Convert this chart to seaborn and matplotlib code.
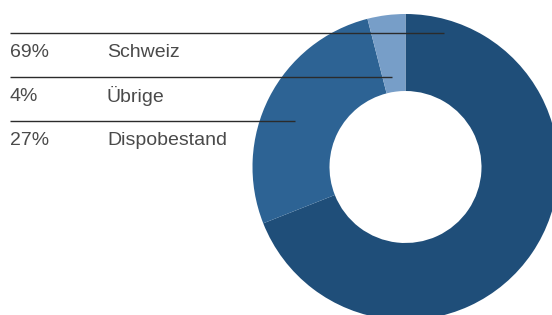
import matplotlib
matplotlib.use("Agg")
import matplotlib.pyplot as plt
import seaborn as sns

# Daten
labels = ["Schweiz", "Übrige", "Dispobestand"]
shares = [69, 4, 27]
# Reihenfolge im Ring (im Uhrzeigersinn ab 12 Uhr)
ring_labels = ["Schweiz", "Dispobestand", "Übrige"]
ring_values = [69, 27, 4]

sns.set_theme(style="white")
plt.rcParams['font.family'] = ['Liberation Sans', 'DejaVu Sans']

farben = {"Schweiz": "#1f4e79", "Dispobestand": "#2d6394", "Übrige": "#779ec8"}

fig = plt.figure(figsize=(5.52, 3.15), dpi=100)
ax = fig.add_axes([0, 0, 1, 1])

# Ring (y-Achse gespiegelt -> Winkel gespiegelt)
ax.pie(ring_values, colors=[farben[l] for l in ring_labels], startangle=-90,
       counterclock=True, radius=153, center=(405.5, 167),
       wedgeprops=dict(width=77, linewidth=0), frame=True)
ax.set_xlim(0, 552)
ax.set_ylim(315, 0)
ax.set_aspect('equal')
ax.axis('off')

# Legende mit Linien
linien_y = [33, 77, 121]
linien_ende = [444, 392, 295]
for i, (lab, val) in enumerate(zip(labels, shares)):
    y = linien_y[i]
    ax.plot([10, linien_ende[i]], [y, y], color="#2b2b2b", lw=1, solid_capstyle='butt')
    ax.text(10, y + 19.5, f"{val}%", fontsize=14, color="#4a4a4a", va='center',
            ha='left')
    ax.text(107, y + 19.5, lab, fontsize=14, color="#4a4a4a", va='center',
            ha='left')

plt.savefig('out.png', dpi=100)
